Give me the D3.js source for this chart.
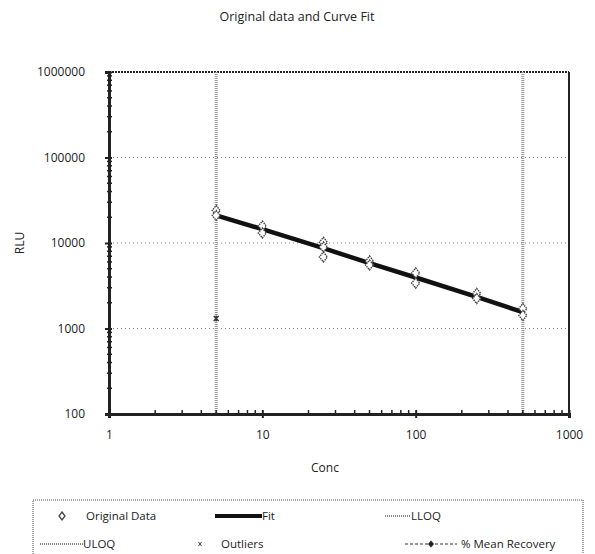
<!DOCTYPE html>
<head>
<meta charset="utf-8">
<style>
body { margin: 0; background: #fff; }
text { font-family: "Open Sans", "Liberation Sans", sans-serif; fill: #222; }
.grid line { stroke: #888; stroke-dasharray: 1,3; }
</style>
</head>
<body>
<div class="viz"></div>
<script src="https://d3js.org/d3.v7.min.js"></script>
<script>
// concentrations and replicate readings
const concs = [5, 10, 25, 50, 100, 250, 500];
const rep1 = [24000, 15800, 10200, 6160, 4460, 2570, 1710];
const rep2 = [21000, 13100, 8980, 5530, 3400, 2240, 1420];
const rep3 = [null, null, 6860, null, null, null, null];
const fitValues = [21000, 14500, 8700, 5800, 3950, 2350, 1550];
const outlierConc = [5];
const outlierValues = [1310];
const lloq = 5, uloq = 500;
const xTicks = [1, 10, 100, 1000];
const yTicks = [100, 1000, 10000, 100000, 1000000];

const W = 595, H = 554;
const margin = {top: 72, right: 26, bottom: 140, left: 109};
const width = W - margin.left - margin.right;
const height = H - margin.top - margin.bottom;

const svg = d3.select(".viz").append("svg")
    .attr("width", W).attr("height", H);

svg.append("text").attr("x", 297).attr("y", 21)
    .attr("text-anchor", "middle").style("font-size", "12.5px")
    .text("Original data and Curve Fit");

const g = svg.append("g")
    .attr("transform", "translate(" + margin.left + "," + margin.top + ")");

const x = d3.scaleLog().domain([1, 1000]).range([0, width]);
const y = d3.scaleLog().domain([100, 1000000]).range([height, 0]);

// horizontal grid
g.append("g").attr("class", "grid")
    .selectAll("line").data(yTicks.slice(1, -1)).enter().append("line")
    .attr("x1", 0).attr("x2", width)
    .attr("y1", d => y(d)).attr("y2", d => y(d));

// frame top/right
g.append("line").attr("x1", 0).attr("x2", width).attr("y1", 0).attr("y2", 0)
    .attr("stroke", "#222").attr("stroke-width", 2).attr("stroke-dasharray", "2,1");
g.append("line").attr("x1", width).attr("x2", width).attr("y1", 0).attr("y2", height)
    .attr("stroke", "#222").attr("stroke-width", 2);

// LLOQ / ULOQ
[lloq, uloq].forEach(v => {
    g.append("line").attr("x1", x(v)).attr("x2", x(v)).attr("y1", 0).attr("y2", height)
        .attr("stroke", "#999").attr("stroke-width", 3).attr("stroke-dasharray", "1,1");
});

// axes
const minorX = d3.range(0, 3).flatMap(e => d3.range(2, 10).map(m => m * Math.pow(10, e)));
const minorY = d3.range(2, 6).flatMap(e => d3.range(2, 10).map(m => m * Math.pow(10, e)));

const xAxis = g.append("g").attr("transform", "translate(0," + height + ")")
    .call(d3.axisBottom(x).tickValues(xTicks).tickFormat(d3.format("d")).tickSize(4).tickPadding(12));
xAxis.selectAll(".tick line").attr("y1", -4);
xAxis.append("g").selectAll("line").data(minorX).enter().append("line")
    .attr("x1", d => x(d)).attr("x2", d => x(d)).attr("y1", 0).attr("y2", -4)
    .attr("stroke", "#222").attr("stroke-width", 1.5);

const yAxis = g.append("g")
    .call(d3.axisLeft(y).tickValues(yTicks).tickFormat(d3.format("d")).tickSize(4).tickPadding(20));
yAxis.selectAll(".tick line").attr("x1", 3);
yAxis.append("g").selectAll("line").data(minorY).enter().append("line")
    .attr("y1", d => y(d)).attr("y2", d => y(d)).attr("x1", -2).attr("x2", 3)
    .attr("stroke", "#222").attr("stroke-width", 1.5);

[xAxis, yAxis].forEach(a => {
    a.select(".domain").attr("stroke", "#222").attr("stroke-width", 3);
    a.selectAll(".tick line").attr("stroke", "#222").attr("stroke-width", 2);
    a.selectAll(".tick text").style("font-size", "12px").attr("fill", "#222");
});

// fit line
const fitData = concs.map((c, i) => ({x: c, y: fitValues[i]}));
g.append("path").datum(fitData)
    .attr("d", d3.line().x(d => x(d.x)).y(d => y(d.y)))
    .attr("fill", "none").attr("stroke", "#111").attr("stroke-width", 4.5);

// original data
const pts = [];
[rep1, rep2, rep3].forEach(r => r.forEach((v, i) => { if (v != null) pts.push({x: concs[i], y: v}); }));
const diamond = "M0,-5L4,0L0,5L-4,0Z";
g.selectAll(".pt").data(pts).enter().append("path")
    .attr("class", "pt")
    .attr("transform", d => "translate(" + x(d.x) + "," + y(d.y) + ")")
    .attr("d", diamond)
    .attr("fill", "#fff").attr("stroke", "#444").attr("stroke-width", 1.4)
    .attr("stroke-dasharray", "1.5,0.8");

// outliers
const star = "M-2.5,-2.5L2.5,2.5M-2.5,2.5L2.5,-2.5M0,-3L0,3";
g.selectAll(".out").data(outlierConc).enter().append("path")
    .attr("transform", (d, i) => "translate(" + x(d) + "," + y(outlierValues[i]) + ")")
    .attr("d", star).attr("stroke", "#333").attr("stroke-width", 1.3);

// axis titles
svg.append("text").attr("transform", "translate(24,243) rotate(-90)")
    .attr("text-anchor", "middle").style("font-size", "12px").text("RLU");
svg.append("text").attr("x", 325).attr("y", 472)
    .attr("text-anchor", "middle").style("font-size", "12px").text("Conc");

// legend
const lg = svg.append("g");
lg.append("rect").attr("x", 33).attr("y", 500).attr("width", 550).attr("height", 60)
    .attr("fill", "none").attr("stroke", "#555").attr("stroke-dasharray", "1,1");
const lt = (tx, ty, s) => lg.append("text").attr("x", tx).attr("y", ty).style("font-size", "11.5px").text(s);

lg.append("path").attr("transform", "translate(62,516)").attr("d", "M0,-4L3,0L0,4L-3,0Z")
    .attr("fill", "#fff").attr("stroke", "#444").attr("stroke-width", 1.3);
lt(86, 520, "Original Data");
lg.append("line").attr("x1", 215).attr("x2", 262).attr("y1", 516).attr("y2", 516)
    .attr("stroke", "#111").attr("stroke-width", 4);
lt(262, 520, "Fit");
lg.append("line").attr("x1", 385).attr("x2", 411).attr("y1", 516).attr("y2", 516)
    .attr("stroke", "#888").attr("stroke-width", 2).attr("stroke-dasharray", "1,1");
lt(411, 520, "LLOQ");

lg.append("line").attr("x1", 40).attr("x2", 83).attr("y1", 544).attr("y2", 544)
    .attr("stroke", "#888").attr("stroke-width", 2).attr("stroke-dasharray", "1,1");
lt(83, 548, "ULOQ");
lg.append("path").attr("transform", "translate(200,544) scale(0.7)").attr("d", star)
    .attr("stroke", "#555").attr("stroke-width", 1.3);
lt(221, 548, "Outliers");
lg.append("line").attr("x1", 405).attr("x2", 457).attr("y1", 544).attr("y2", 544)
    .attr("stroke", "#333").attr("stroke-width", 1).attr("stroke-dasharray", "3,2");
lg.append("path").attr("transform", "translate(431,544)").attr("d", "M0,-3.5L3,0L0,3.5L-3,0Z")
    .attr("fill", "#222");
lt(461, 548, "% Mean Recovery");
</script>
</body>
